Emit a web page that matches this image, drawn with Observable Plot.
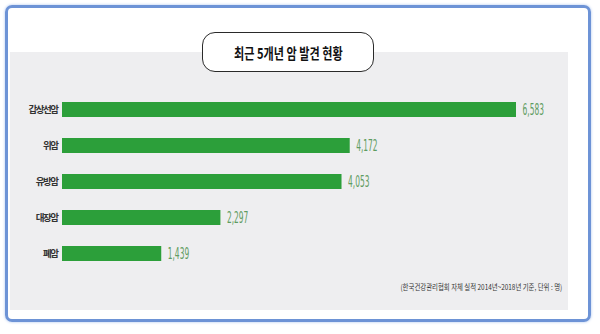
<!DOCTYPE html>
<html><head><meta charset="utf-8">
<script src="https://cdn.jsdelivr.net/npm/d3@7"></script>
<script src="https://cdn.jsdelivr.net/npm/@observablehq/plot@0.6"></script>
<style>
html,body{margin:0;padding:0;background:#fff;}
#wrap{position:relative;width:600px;height:334px;overflow:hidden;font-family:"Noto Sans CJK KR","Noto Sans",sans-serif;}
#frame{position:absolute;left:5px;top:5px;width:580px;height:311px;border:3px solid #6d93d6;border-radius:7px;box-shadow:0 0 3px #a9c3ee;}
#panel{position:absolute;left:10px;top:52px;width:558px;height:258px;background:#eeeef0;}
#pill{position:absolute;left:202px;top:32px;width:170px;height:38px;border:1.6px solid #2a2a2a;border-radius:13px;background:#fff;display:flex;align-items:center;justify-content:center;}
#pill span{display:inline-block;font-weight:bold;font-size:15px;color:#111;transform:scaleX(0.74);white-space:nowrap;}
#chart{position:absolute;left:0;top:80px;}
#cap{position:absolute;right:38px;top:281px;font-size:8px;color:#333;white-space:nowrap;transform:scaleX(0.8);transform-origin:right center;}
#chart svg [aria-label="y-axis tick label"] text{font-weight:bold;letter-spacing:-1.5px;}
</style></head>
<body><div id="wrap">
<div id="frame"></div>
<div id="panel"></div>
<div id="pill"><span id="title"></span></div>
<div id="chart"></div>
<div id="cap"></div>
</div>
<script>
const title = "최근 5개년 암 발견 현황";
const caption = "(한국건강관리협회 자체 실적 2014년~2018년 기준, 단위 : 명)";
const categories = ["갑상선암", "위암", "유방암", "대장암", "폐암"];
const values = [6583, 4172, 4053, 2297, 1439];

document.getElementById("title").textContent = title;
document.getElementById("cap").textContent = caption;

const data = categories.map((c, i) => ({cat: c, val: values[i]}));
const fmt = d3.format(",");

const plot = Plot.plot({
  width: 600,
  height: 200,
  marginLeft: 62,
  marginRight: 84,
  marginTop: 13,
  marginBottom: 10,
  style: {background: "transparent", fontFamily: "'Noto Sans CJK KR', sans-serif", fontSize: "9.5px", color: "#333"},
  x: {domain: [0, 6583], axis: null},
  y: {domain: categories, paddingInner: 0.58, paddingOuter: 0.2, label: null, tickSize: 0, tickPadding: 5},
  marks: [
    Plot.barX(data, {x: "val", y: "cat", fill: "#2c9f3a"}),
    Plot.text(data, {x: "val", y: "cat", text: d => fmt(d.val), dx: 6, textAnchor: "start", fill: "#5e9c60", fontSize: 16, fontFamily: "'Liberation Sans Narrow','DejaVu Sans Condensed',sans-serif"})
  ]
});
document.getElementById("chart").appendChild(plot);
// condense value labels like the reference's narrow typeface
d3.select(plot).selectAll("text").filter(function(){ return this.closest("[aria-label='text']"); }).each(function(){
  const w = this.getComputedTextLength();
  this.setAttribute("textLength", (w * 0.52).toFixed(1));
  this.setAttribute("lengthAdjust", "spacingAndGlyphs");
});
</script>
</body></html>
